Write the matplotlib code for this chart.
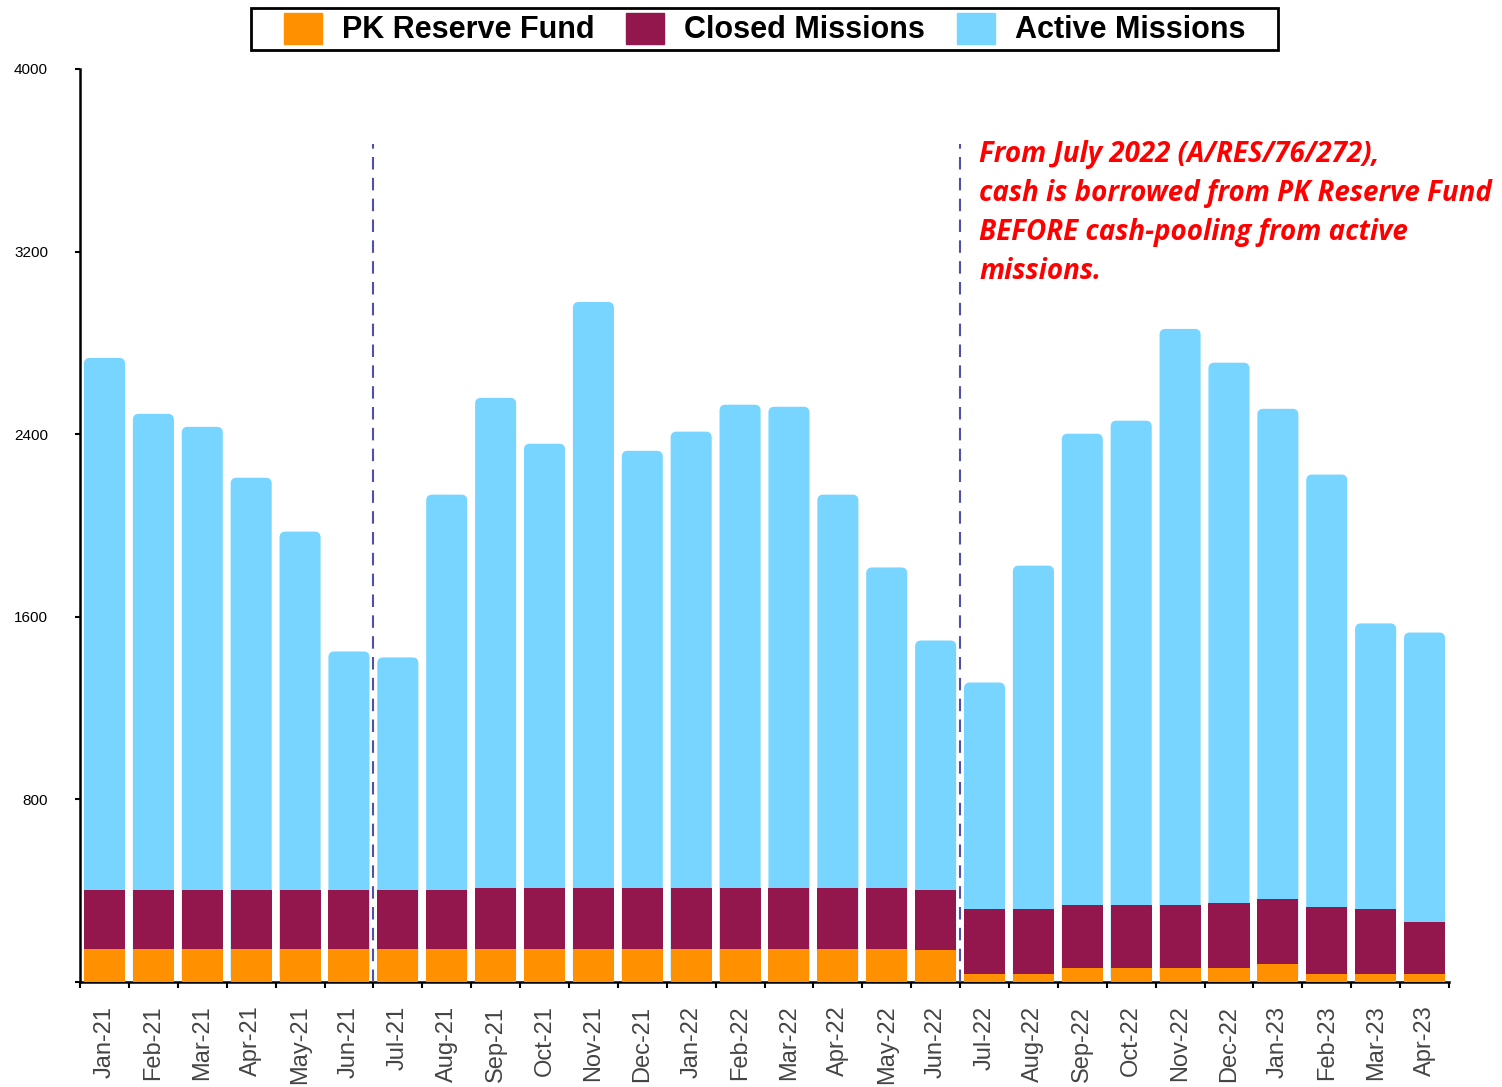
import numpy as np
import matplotlib
matplotlib.use("Agg")
import matplotlib.pyplot as plt
from matplotlib.patches import FancyBboxPatch, Patch, Rectangle

# données
mois = ["Jan-21", "Feb-21", "Mar-21", "Apr-21", "May-21", "Jun-21",
        "Jul-21", "Aug-21", "Sep-21", "Oct-21", "Nov-21", "Dec-21",
        "Jan-22", "Feb-22", "Mar-22", "Apr-22", "May-22", "Jun-22",
        "Jul-22", "Aug-22", "Sep-22", "Oct-22", "Nov-22", "Dec-22",
        "Jan-23", "Feb-23", "Mar-23", "Apr-23"]

reserve = [145, 145, 145, 145, 145, 145, 145, 145, 145, 145, 145, 145,
           145, 145, 145, 145, 145, 139,
           36, 36, 63, 63, 63, 63, 79, 36, 36, 36]

missions_fermees = [260, 260, 260, 260, 260, 260, 260, 260, 266, 266, 266, 266,
                    266, 266, 266, 266, 266, 265,
                    283, 283, 274, 274, 274, 283, 283, 292, 283, 226]

total = [2734, 2489, 2432, 2209, 1973, 1448, 1422, 2135, 2559, 2358, 2979, 2327,
         2411, 2529, 2520, 2135, 1816, 1496,
         1312, 1824, 2402, 2459, 2861, 2713, 2511, 2223, 1571, 1531]

missions_actives = [t - r - f for t, r, f in zip(total, reserve, missions_fermees)]

c_orange = "#FF9100"
c_bordeaux = "#93174D"
c_bleu = "#78D5FF"

police = ["Liberation Sans", "DejaVu Sans"]

fig = plt.figure(figsize=(15.02, 10.87), dpi=100)
ax = fig.add_axes([0.0533, 0.0966, 0.9114, 0.8400])

x = np.arange(len(mois))
largeur = 0.84
bas_actif = np.array(reserve) + np.array(missions_fermees)

# barres bleues : on les remplace par des barres arrondies en haut
barres = ax.bar(x, missions_actives, largeur, bottom=bas_actif, color=c_bleu)
for b in barres:
    x0, y0 = b.get_x(), b.get_y()
    w, h = b.get_width(), b.get_height()
    b.set_visible(False)
    arrondi = FancyBboxPatch((x0, 0), w, y0 + h,
                             boxstyle="round,pad=0,rounding_size=0.12",
                             mutation_aspect=213, facecolor=c_bleu,
                             edgecolor="none", zorder=2)
    ax.add_patch(arrondi)

ax.bar(x, reserve, largeur, color=c_orange, zorder=3)
ax.bar(x, missions_fermees, largeur, bottom=reserve, color=c_bordeaux, zorder=3)

# lignes verticales pointillées
for pos in [5.5, 17.5]:
    ax.plot([pos, pos], [0, 3670], color="#5050A8", lw=1.5,
            dashes=(6, 4), zorder=4)

ax.text(17.89, 3690,
        "From July 2022 (A/RES/76/272),\ncash is borrowed from PK Reserve Fund\n"
        "BEFORE cash-pooling from active\nmissions.",
        color="#FF0000", fontsize=20, fontweight="bold", fontstyle="italic",
        family=["Open Sans", "DejaVu Sans"], va="top", ha="left",
        linespacing=1.46, zorder=5, clip_on=False)

ax.set_xlim(-0.5, len(mois) - 0.5)
ax.set_ylim(0, 4000)

ax.set_xticks(x)
ax.set_xticklabels(mois, rotation=90, fontsize=17, color="#444444",
                   family=police)
ax.set_xticks(np.arange(len(mois) + 1) - 0.5, minor=True)
ax.tick_params(axis="x", which="major", length=0, pad=17)
ax.tick_params(axis="x", which="minor", length=4.3, width=1.5, direction="out")

yt = [0, 800, 1600, 2400, 3200, 4000]
ax.set_yticks(yt)
ax.set_yticklabels([""] + [str(v) for v in yt[1:]], fontsize=11,
                   family=police)
ax.tick_params(axis="y", length=3.6, width=1.5, pad=19.5)

for s in ["top", "right"]:
    ax.spines[s].set_visible(False)
ax.spines["left"].set_linewidth(1.8)
ax.spines["bottom"].set_linewidth(1.8)

# légende en haut, cadre dessiné à part
poignees = [Patch(color=c_orange), Patch(color=c_bordeaux), Patch(color=c_bleu)]
leg = fig.legend(poignees, ["PK Reserve Fund", "Closed Missions", "Active Missions"],
                 loc="center", bbox_to_anchor=(0.509, 0.9733), ncol=3,
                 frameon=False,
                 prop={"family": police, "size": 22, "weight": "bold"},
                 handlelength=1.24, handleheight=1.18, handletextpad=0.65,
                 columnspacing=1.05, borderpad=0.1, borderaxespad=0)
fig.patches.append(Rectangle((251 / 1502, 1 - 50 / 1087), 1027 / 1502, 42 / 1087,
                             transform=fig.transFigure, fill=False,
                             edgecolor="black", lw=2))

fig.savefig("out.png", dpi=100)
